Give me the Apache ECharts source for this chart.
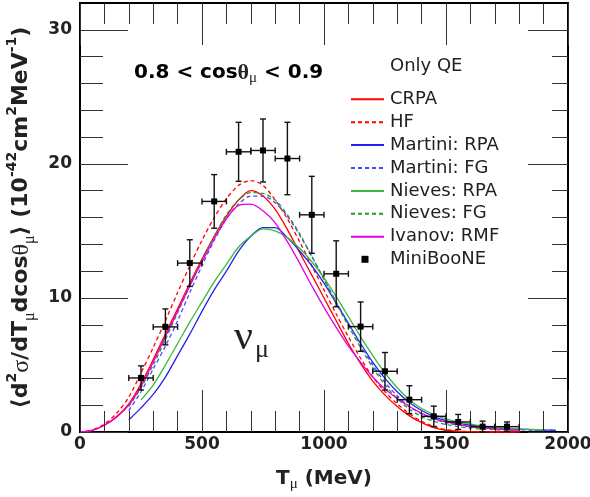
<!DOCTYPE html>
<html><head><meta charset="utf-8">
<script src="https://cdn.jsdelivr.net/npm/echarts@6/dist/echarts.min.js"></script>
<style>html,body{margin:0;padding:0;background:#fff}#c{width:590px;height:497px}</style>
</head><body><div id="c"></div>
<script>
// Muon kinetic energy grid (MeV) for the theory curves
const energies = [0,50,100,150,200,250,300,350,400,450,500,550,600,650,700,750,800,850,900,950,1000,1050,1100,1150,1200,1250,1300,1350,1400,1450,1500,1550,1600,1650,1700,1750,1800,1850,1900,1950,2000];

const crpa = [0,0.12,0.5,1.15,2.1,3.6,5.4,7.3,9.2,11.1,12.9,14.6,16.1,17.3,18.0,17.6,16.6,15.1,13.4,11.7,10.0,8.3,6.6,5.1,3.8,2.75,1.9,1.2,0.7,0.33,0.13,0.05,0.02,0.01,0,0,0,null,null,null,null];
const hf = [0,0.15,0.6,1.4,2.6,4.4,6.3,8.3,10.4,12.4,14.3,16.0,17.4,18.4,18.75,18.4,17.3,15.9,14.2,12.4,10.6,8.8,7.1,5.5,4.1,3.0,2.1,1.35,0.8,0.4,0.18,0.07,0.03,0.01,0,0,0,null,null,null,null];
const martiniRPA = [null,null,null,null,0.9,1.8,2.8,4.1,5.7,7.3,9.0,10.6,12.0,13.5,14.6,15.25,15.25,14.5,13.5,12.4,11.1,9.6,8.1,6.6,5.2,4.0,3.0,2.2,1.6,1.15,0.85,0.66,0.52,0.41,0.33,0.27,0.22,0.18,0.15,0.13,null];
const martiniFG = [null,null,null,null,1.6,3.0,4.7,6.4,8.3,10.4,12.4,14.3,15.9,17.0,17.6,17.6,17.1,16.1,14.7,13.1,11.4,9.7,8.1,6.5,5.0,3.7,2.7,1.9,1.35,0.95,0.7,0.52,0.4,0.31,0.25,0.2,0.17,0.15,0.14,0.13,null];
const nievesRPA = [null,null,null,null,null,2.4,3.5,5.0,6.6,8.2,9.7,11.2,12.5,13.8,14.6,15.15,15.0,14.5,13.7,12.7,11.5,10.1,8.6,7.1,5.7,4.4,3.3,2.4,1.75,1.3,0.98,0.75,0.58,0.45,0.36,0.29,0.24,0.2,0.18,null,null];
const nievesFG = [null,null,null,null,1.9,3.3,5.0,6.9,8.9,10.9,12.8,14.6,16.2,17.3,17.85,17.8,17.3,16.2,14.8,13.1,11.4,9.6,7.9,6.3,4.8,3.5,2.5,1.7,1.15,0.8,0.55,0.4,0.3,0.22,0.17,0.13,0.1,null,null,null,null];
const ivanovRMF = [0,0.12,0.5,1.1,2.0,3.4,5.2,7.1,9.0,10.9,12.7,14.4,15.9,16.9,17.0,16.5,15.6,14.2,12.6,10.9,9.3,7.8,6.4,5.2,4.1,3.2,2.5,1.9,1.4,1.0,0.75,0.55,0.42,0.32,0.24,0.18,0.13,null,null,null,null];

// MiniBooNE data: bin centres, values, vertical errors, half bin width
const miniT = [250,350,450,550,650,750,850,950,1050,1150,1250,1350,1450,1550,1650,1750];
const miniV = [4.03,7.84,12.6,17.2,20.9,21.0,20.4,16.2,11.8,7.86,4.53,2.41,1.17,0.75,0.40,0.40];
const miniErr = [0.9,1.34,1.74,2.0,2.2,2.35,2.7,2.87,2.46,1.84,1.4,1.04,0.76,0.56,0.41,0.35];
const miniHalfWidth = [50,50,50,50,50,50,50,50,50,50,50,50,50,50,50,50];

// Tick positions (axis values)
const xMajorTicks = [0,500,1000,1500,2000];
const xMinorTicks = [100,200,300,400,600,700,800,900,1100,1200,1300,1400,1600,1700,1800,1900];
const yMajorTicks = [0,10,20,30];
const yMinorTicks = [2,4,6,8,12,14,16,18,22,24,26,28];

const curveDefs = [
  {name:'CRPA', data:crpa, color:'#ff0000', type:'solid'},
  {name:'HF', data:hf, color:'#ff0000', type:[4,3]},
  {name:'Martini: RPA', data:martiniRPA, color:'#2323ee', type:'solid'},
  {name:'Martini: FG', data:martiniFG, color:'#4646ff', type:[4,3]},
  {name:'Nieves: RPA', data:nievesRPA, color:'#3cb83c', type:'solid'},
  {name:'Nieves: FG', data:nievesFG, color:'#2e962e', type:[4,3]},
  {name:'Ivanov: RMF', data:ivanovRMF, color:'#e000e0', type:'solid'}
];

const X_MIN = 0, X_MAX = 2000, Y_MIN = 0, Y_MAX = 32;
const GRID = {left:80, right:22, top:3, bottom:65};
const X_PER_PX = (X_MAX - X_MIN) / (590 - GRID.left - GRID.right);
const Y_PER_PX = (Y_MAX - Y_MIN) / (497 - GRID.top - GRID.bottom);

const chart = echarts.init(document.getElementById('c'), null, {renderer:'canvas'});

const labelFont = {fontFamily:'DejaVu Sans', fontWeight:'bold', fontSize:17, color:'#222'};
const fmt = v => String(v);
const boldTok = {fontFamily:'DejaVu Sans', fontWeight:'bold', color:'#222'};

// Inward frame ticks as mark lines in axis coordinates
const tickLines = [];
function xt(values, lenPx) {
  const d = lenPx * Y_PER_PX;
  values.forEach(v => {
    tickLines.push([{coord:[v, Y_MIN]}, {coord:[v, Y_MIN + d]}]);
    tickLines.push([{coord:[v, Y_MAX]}, {coord:[v, Y_MAX - d]}]);
  });
}
function yt(values, lenL, lenR) {
  values.forEach(v => {
    tickLines.push([{coord:[X_MIN, v]}, {coord:[X_MIN + lenL * X_PER_PX, v]}]);
    tickLines.push([{coord:[X_MAX, v]}, {coord:[X_MAX - lenR * X_PER_PX, v]}]);
  });
}
xt(xMajorTicks, 42); xt(xMinorTicks, 21);
yt(yMajorTicks, 48, 40); yt(yMinorTicks, 23, 16);

const series = curveDefs.map((c, k) => {
  const s = {
    name:c.name, type:'line',
    data: energies.map((t,i) => [t, c.data[i]]),
    showSymbol:false, symbol:'none', smooth:0.3, connectNulls:false,
    lineStyle:{color:c.color, width:1.3, type:c.type},
    itemStyle:{color:c.color}, z:3
  };
  if (k === 0) {
    s.markLine = {
      silent:true, animation:false, symbol:['none','none'], precision:6,
      label:{show:false},
      lineStyle:{color:'#333', width:1, type:'solid', opacity:1},
      emphasis:{disabled:true},
      data:tickLines
    };
  }
  return s;
});

series.push({
  name:'MiniBooNE', type:'custom', z:5,
  itemStyle:{color:'#000'},
  data: miniT.map((t,i) => [t, miniV[i], miniErr[i], miniHalfWidth[i]]),
  renderItem: function(params, api) {
    const x = api.value(0), y = api.value(1), e = api.value(2), w = api.value(3);
    const c = api.coord([x,y]);
    const l = api.coord([x-w,y]), r = api.coord([x+w,y]);
    const t = api.coord([x,y+e]), b = api.coord([x,Math.max(0,y-e)]);
    const st = {stroke:'#111', lineWidth:1.4};
    const cap = 3;
    return {type:'group', children:[
      {type:'line', shape:{x1:l[0],y1:l[1],x2:r[0],y2:r[1]}, style:st},
      {type:'line', shape:{x1:t[0],y1:t[1],x2:b[0],y2:b[1]}, style:st},
      {type:'line', shape:{x1:l[0],y1:l[1]-cap,x2:l[0],y2:l[1]+cap}, style:st},
      {type:'line', shape:{x1:r[0],y1:r[1]-cap,x2:r[0],y2:r[1]+cap}, style:st},
      {type:'line', shape:{x1:t[0]-cap,y1:t[1],x2:t[0]+cap,y2:t[1]}, style:st},
      {type:'line', shape:{x1:b[0]-cap,y1:b[1],x2:b[0]+cap,y2:b[1]}, style:st},
      {type:'rect', shape:{x:c[0]-3,y:c[1]-3,width:6,height:6}, style:{fill:'#000'}}
    ]};
  }
});

const option = {
  animation:false,
  backgroundColor:'#fff',
  grid:{left:GRID.left, right:GRID.right, top:GRID.top, bottom:GRID.bottom, outerBoundsMode:'none', containLabel:false,
        show:true, borderColor:'#000', borderWidth:2, backgroundColor:'transparent'},
  xAxis:{
    type:'value', min:X_MIN, max:X_MAX, interval:500, position:'bottom',
    axisLine:{show:false}, splitLine:{show:false}, axisTick:{show:false},
    axisLabel:Object.assign({show:true, margin:4, formatter:fmt}, labelFont),
    name:'{b|T}{sub|μ}{b| (MeV)}', nameLocation:'middle', nameGap:34,
    nameTextStyle:{rich:{
      b:Object.assign({fontSize:20, lineHeight:26}, boldTok),
      sub:{fontFamily:'Liberation Serif', fontSize:15, lineHeight:15, verticalAlign:'bottom', color:'#222'}
    }}
  },
  yAxis:{
    type:'value', min:Y_MIN, max:Y_MAX, interval:10, position:'left',
    axisLine:{show:false}, splitLine:{show:false}, axisTick:{show:false},
    axisLabel:Object.assign({show:true, margin:8, showMaxLabel:false, formatter:fmt}, labelFont),
    name:'{b|⟨d}{sup|2}{g|σ}{b|/dT}{sub|μ}{b|dcos}{g|θ}{sub|μ}{b|⟩ (10}{sup|-42}{b|cm}{sup|2}{b|MeV}{sup|-1}{b|)}',
    nameLocation:'middle', nameRotate:90, nameGap:30,
    nameTextStyle:{rich:{
      b:Object.assign({fontSize:22, lineHeight:32}, boldTok),
      g:{fontFamily:'Liberation Serif', fontSize:24, lineHeight:32, color:'#222'},
      sup:Object.assign({fontSize:14, lineHeight:14, verticalAlign:'top'}, boldTok),
      sub:{fontFamily:'Liberation Serif', fontSize:16, lineHeight:15, verticalAlign:'bottom', color:'#222'}
    }}
  },
  legend:[
    {
      data:curveDefs.map(c => c.name), orient:'vertical', left:350, top:90.3, padding:0,
      itemWidth:33, itemHeight:14, itemGap:4.9,
      itemStyle:{opacity:0, borderWidth:0},
      textStyle:{fontFamily:'DejaVu Sans', fontSize:18, color:'#222', padding:[0,0,0,1]},
      selectedMode:false
    },
    {
      data:[{name:'MiniBooNE', icon:'rect'}], orient:'vertical', left:361.5, top:250.3, padding:0,
      itemWidth:7, itemHeight:7,
      textStyle:{fontFamily:'DejaVu Sans', fontSize:18, color:'#222', padding:[0,0,0,16.5]},
      selectedMode:false
    }
  ],
  graphic:[
    {type:'text', left:134, top:62, style:{
      text:'{b|0.8 < cos}{g|θ}{sub|μ}{b| < 0.9}',
      rich:{
        b:Object.assign({fontSize:20, lineHeight:26}, boldTok),
        g:{fontFamily:'Liberation Serif', fontSize:22, lineHeight:26, fill:'#222', fontWeight:'bold'},
        sub:{fontFamily:'Liberation Serif', fontSize:15, lineHeight:15, verticalAlign:'bottom', fill:'#222'}
      }
    }},
    {type:'text', left:390, top:57, style:{text:'Only QE', font:'18px "DejaVu Sans"', fill:'#222'}},
    {type:'text', x:234, y:338, style:{text:'ν', font:'42px "Liberation Serif"', fill:'#222', verticalAlign:'middle'}},
    {type:'text', x:255, y:350, style:{text:'μ', font:'26px "Liberation Serif"', fill:'#222', verticalAlign:'middle'}}
  ],
  series:series
};
chart.setOption(option);
</script>
</body></html>
